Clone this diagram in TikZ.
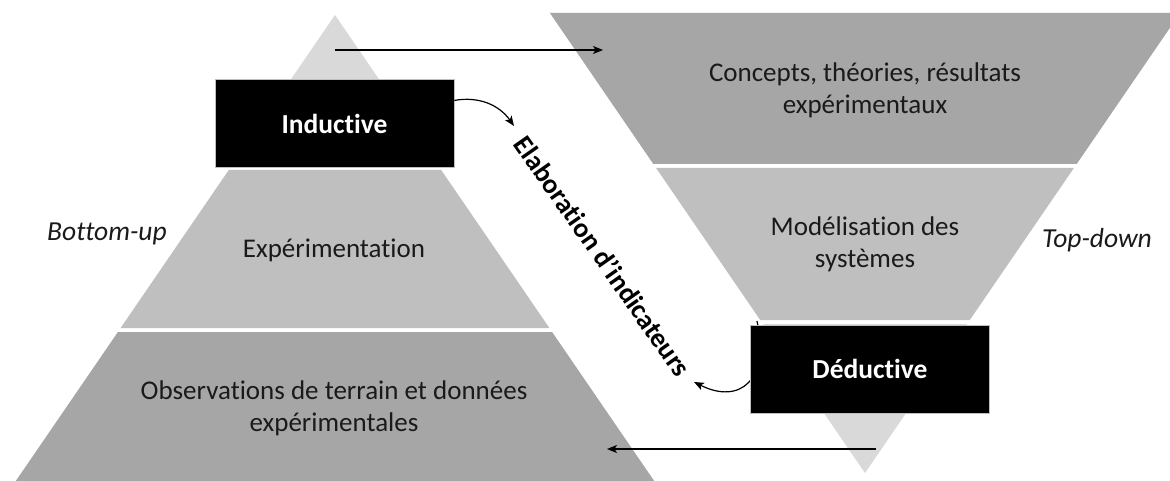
\documentclass[tikz,border=0pt]{standalone}
\usepackage{fontspec}
\setmainfont{Carlito}[Ligatures={NoCommon,NoContextual,NoRare},RawFeature={-liga;-clig;-calt;-dlig}]
\usetikzlibrary{arrows.meta,calc}
\definecolor{dk}{HTML}{A6A6A6}
\definecolor{md}{HTML}{BFBFBF}
\definecolor{lt}{HTML}{D9D9D9}
\definecolor{txt}{HTML}{1A1A1A}
\begin{document}
\begin{tikzpicture}[x=1pt,y=-1pt,
  lbl/.style={text=txt,font=\fontsize{27}{32}\selectfont,align=center,inner sep=0pt},
  blackbox/.style={fill=black,draw=gray!50,line width=0.8pt,minimum width=239pt,minimum height=88pt,inner sep=0pt,text=white,font=\fontsize{27.5}{32}\selectfont\bfseries},
  conn/.style={line width=1.2pt,-{Stealth[length=10pt,width=8pt,inset=2.5pt]}},
  side/.style={font=\fontsize{27.5}{30}\selectfont\itshape,text=txt,inner sep=0pt}
]
\useasboundingbox (0,0) rectangle (1170,481);
\clip (0,0) rectangle (1170,481);
% left pyramid
\fill[lt] (335,15) -- (438.4,166) -- (231.6,166) -- cycle;
\fill[md] (228.8,170) -- (441.2,170) -- (549.4,328) -- (120.6,328) -- cycle;
\fill[dk] (117.9,332) -- (552.1,332) -- (654.2,481) -- (15.8,481) -- cycle;
% right inverted pyramid
\fill[dk] (549.9,13) -- (1180.1,13) -- (1076.7,164) -- (653.3,164) -- cycle;
\fill[md] (656.1,168) -- (1073.9,168) -- (969.8,320) -- (760.2,320) -- cycle;
\fill[lt] (762.9,324) -- (967.1,324) -- (865,473) -- cycle;

% layer texts
\node[lbl] (concepts) at (865,90) {Concepts, théories, résultats\\expérimentaux};
\node[lbl] (model) at (865,244) {Modélisation des\\systèmes};
\node[lbl] (exper) at (334,250) {Expérimentation};
\node[lbl] (obs) at (334,408) {Observations de terrain et données\\expérimentales};
\node[side,anchor=west] (bu) at (47,234) {Bottom-up};
\node[side,anchor=west] (td) at (1042,240) {Top-down};

% horizontal arrows
\coordinate (a1) at (335,50);
\coordinate (a2) at (603,50);
\draw[conn] (a1) -- (a2);
\coordinate (b1) at (876,449);
\coordinate (b2) at (607,449);
\draw[conn] (b1) -- (b2);

% rotated label
\node[text=black,font=\fontsize{27.5}{32}\selectfont\bfseries,rotate=-55,inner sep=0pt] (elab) at (603,256) {Elaboration d’indicateurs};

% deductive curved arrow (behind box)
\coordinate (d0) at (757,321);
\coordinate (e2) at (694,382);
\draw[conn] (d0) .. controls (770,380) and (740,405) .. (e2);

% boxes
\node[blackbox] (ind) at (334.5,123.5) {Inductive};
\node[blackbox] (ded) at (870,369) {Déductive};

% inductive curved arrow
\coordinate (e1) at (514,126);
\draw[conn] ($(ind.north east)!0.24!(ind.south east)$) to[out=10,in=125] (e1);
\end{tikzpicture}
\end{document}
